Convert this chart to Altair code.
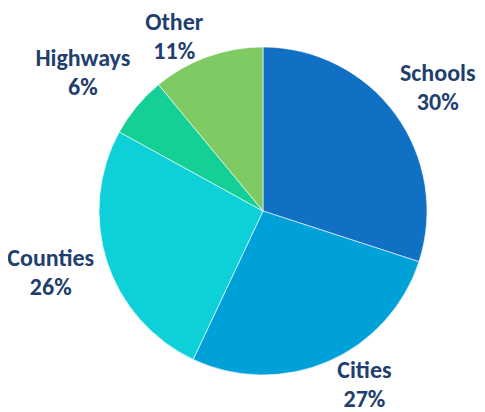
import altair as alt
import pandas as pd

categories = ["Schools", "Cities", "Counties", "Highways", "Other"]
shares = [30, 27, 26, 6, 11]
colors = ["#1070C4", "#00A0D8", "#0DD0D8", "#14CF96", "#7FCA63"]

df = pd.DataFrame({
    "category": categories,
    "share": shares,
    "order": list(range(len(categories))),
    "pct": [f"{s}%" for s in shares],
})

cx, cy = 255, 203

# label layout tweaks (radius, dx, dy) per category
label_layout = {
    "Schools": (216, 0, 4),
    "Cities": (205, 20, -14),
    "Counties": (220, -3, -5),
    "Highways": (226, -6, 7),
    "Other": (197, -22, 12),
}

theta_scale = alt.Scale(domain=[0, 100])

base = alt.Chart(df).transform_window(
    cum="sum(share)", sort=[alt.SortField("order")]
).transform_calculate(
    start="datum.cum - datum.share",
    mid="datum.cum - datum.share / 2",
).encode(x=alt.value(cx), y=alt.value(cy))

pie = base.mark_arc(outerRadius=164, stroke="white", strokeWidth=0.6).encode(
    theta=alt.Theta("start:Q", scale=theta_scale),
    theta2=alt.Theta2("cum:Q"),
    color=alt.Color("category:N", scale=alt.Scale(domain=categories, range=colors), legend=None),
)

font = "Carlito, Lato, sans-serif"
layers = [pie]
for cat in categories:
    r, ddx, ddy = label_layout[cat]
    sub = base.transform_filter(alt.datum.category == cat).encode(
        theta=alt.Theta("mid:Q", scale=theta_scale)
    )
    layers.append(sub.mark_text(radius=r, dx=ddx, dy=ddy - 14.5, font=font, fontSize=24,
                                fontWeight="bold", color="#1F3F6E").encode(text="category:N"))
    layers.append(sub.mark_text(radius=r, dx=ddx, dy=ddy + 14.5, font=font, fontSize=24,
                                fontWeight="bold", color="#1F3F6E").encode(text="pct:N"))

chart = alt.layer(*layers).properties(
    width=469, height=404, padding=0, autosize=alt.AutoSizeParams(type="none")
).configure_view(stroke=None)

chart.save("out.html", embed_options={"renderer": "svg", "actions": False})
